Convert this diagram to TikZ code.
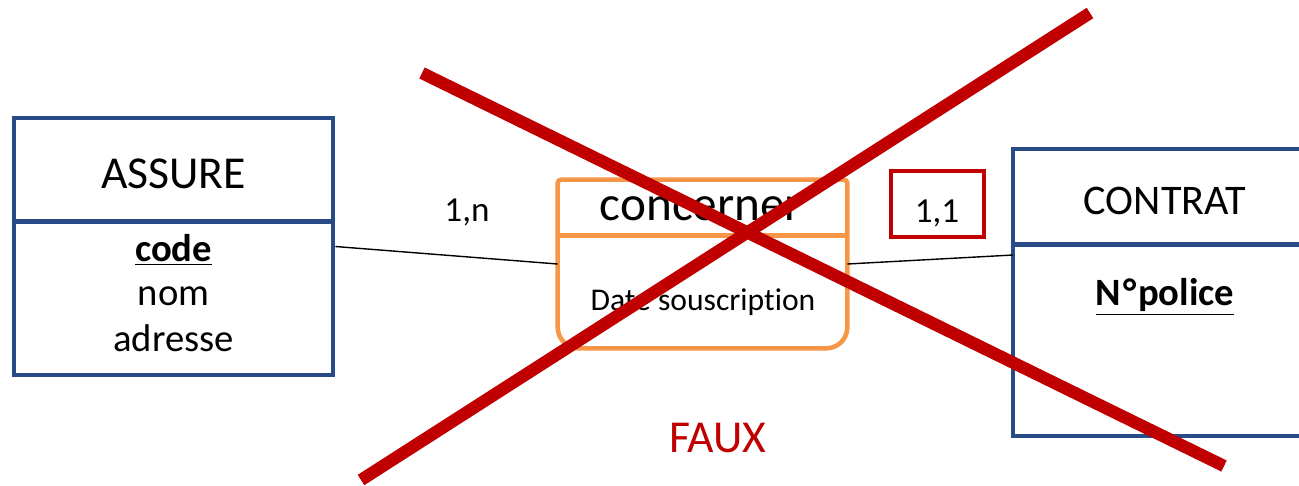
\documentclass[tikz,border=0pt]{standalone}
\usepackage{fontspec}
\setmainfont{Carlito}[Ligatures=NoCommon]
\definecolor{entblue}{RGB}{40,75,135}
\definecolor{assorange}{RGB}{247,150,70}
\definecolor{wrongred}{RGB}{192,0,0}
\tikzset{
    entity/.style={draw=entblue, line width=2.8pt, inner sep=0pt},
    assoc/.style={draw=assorange, line width=2.6pt},
    link/.style={black, line width=0.8pt},
    txt/.style={inner sep=0pt, font=\fontsize{#1}{#1}\selectfont},
}
\begin{document}
\begin{tikzpicture}[x=0.02cm, y=-0.02cm]
        \useasboundingbox (0, 0) rectangle (1299, 485);

        % entites
        \node[entity, minimum width=6.38cm, minimum height=5.14cm] (assure) at (173.5, 246.5) {};
        \draw[entity] ([yshift=-2.12cm]assure.north west) -- ([yshift=-2.12cm]assure.north east);
        \node[txt=26] (assurename) at (173.5, 174) {ASSURE};
        \node[txt=22] (code) at (173.5, 250) {\underline{\textbf{code}}};
        \node[txt=22] (nom) at (173.5, 296) {nom};
        \node[txt=22] (adresse) at (173.5, 338) {adresse};

        \node[entity, minimum width=6.14cm, minimum height=5.74cm] (contrat) at (1166.5, 292.5) {};
        \draw[entity] ([yshift=-1.96cm]contrat.north west) -- ([yshift=-1.96cm]contrat.north east);
        \node[txt=24] (contratname) at (1165, 201) {CONTRAT};
        \node[txt=22] (police) at (1165, 297) {\underline{\textbf{N\kern1pt°\kern1pt police}}};

        % association
        \node[minimum width=5.78cm, minimum height=3.36cm, inner sep=0pt] (concerner) at (702.5, 264) {};
        \draw[assoc] (concerner.west) [rounded corners=2pt] |- (concerner.north) -| (concerner.east)
            [rounded corners=12pt] |- (concerner.south) -| (concerner.west);
        \draw[assoc] ([yshift=-1.12cm]concerner.north west) -- ([yshift=-1.12cm]concerner.north east);
        \node[txt=28] (concname) at (701, 209) {concerner};
        \node[txt=18] (date) at (703, 302) {Date souscription};

        % liens et cardinalites
        \coordinate (contratin) at (1013, 255);
        \draw[link] (assure.east) -- (concerner.west);
        \draw[link] (concerner.east) -- (contratin);
        \node[txt=20] (card1n) at (467, 212) {1,n};
        \node[draw=wrongred, line width=2.6pt, minimum width=1.86cm, minimum height=1.32cm] (box11) at (937.5, 204) {};
        \node[txt=20] (card11) at (937, 213) {1,1};

        % croix
        \draw[wrongred, line width=7pt] (422, 73) -- (1224, 466);
        \draw[wrongred, line width=7pt] (1090, 13) -- (361, 480);
        \node[txt=26, text=wrongred] (faux) at (718, 438) {FAUX};
\end{tikzpicture}
\end{document}
